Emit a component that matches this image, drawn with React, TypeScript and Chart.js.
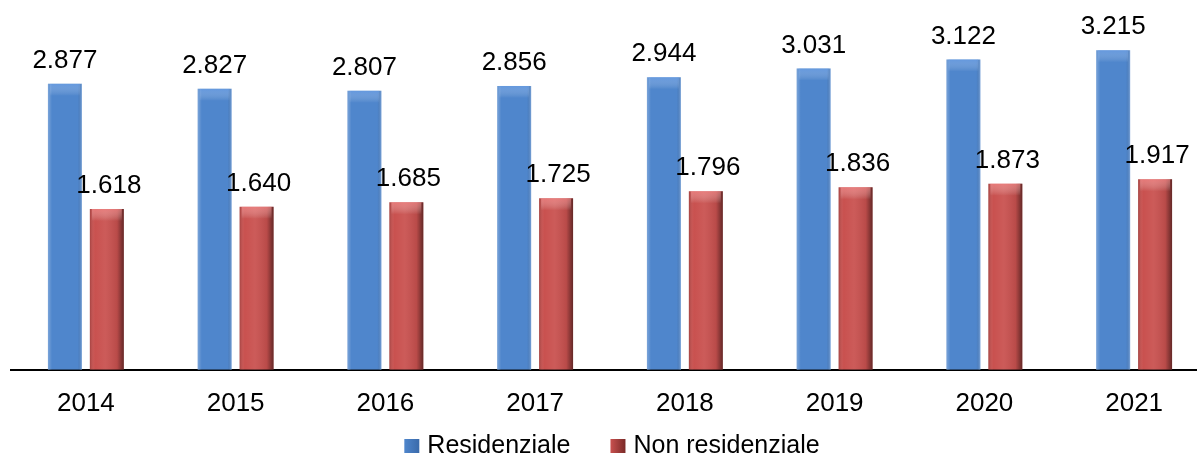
import React, { useEffect, useRef } from 'react';
import { Chart, registerables } from 'chart.js';

Chart.register(...registerables);

const categories = ['2014', '2015', '2016', '2017', '2018', '2019', '2020', '2021'];
const residenziale = [2877, 2827, 2807, 2856, 2944, 3031, 3122, 3215];
const nonResidenziale = [1618, 1640, 1685, 1725, 1796, 1836, 1873, 1917];
const seriesLabels = ['Residenziale', 'Non residenziale'];
const seriesColors = ['#4F86CC', '#C9514F'];

const FONT = '"Liberation Sans", Arial, sans-serif';

function fmt(v: number): string {
  const s = String(v);
  return s.slice(0, -3) + '.' + s.slice(-3);
}

export default function App() {
  const ref = useRef<HTMLCanvasElement>(null);

  useEffect(() => {
    document.body.style.margin = '0';
    const canvas = ref.current!;

    const shadePlugin = {
      id: 'shade',
      afterDatasetsDraw(chart: any) {
        const ctx = chart.ctx;
        chart.data.datasets.forEach((ds: any, di: number) => {
          const meta = chart.getDatasetMeta(di);
          meta.data.forEach((bar: any) => {
            const { x, y, base, width } = bar.getProps(['x', 'y', 'base', 'width'], true);
            const l = x - width / 2;
            const h = base - y;
            ctx.save();
            const g = ctx.createLinearGradient(l, 0, l + width, 0);
            if (di === 1) {
              g.addColorStop(0, 'rgba(0,0,0,0.18)');
              g.addColorStop(0.15, 'rgba(255,255,255,0.0)');
              g.addColorStop(0.45, 'rgba(255,255,255,0.06)');
              g.addColorStop(0.8, 'rgba(0,0,0,0.08)');
              g.addColorStop(1, 'rgba(0,0,0,0.5)');
            } else {
              g.addColorStop(0, 'rgba(255,255,255,0.25)');
              g.addColorStop(0.12, 'rgba(255,255,255,0.0)');
              g.addColorStop(0.88, 'rgba(0,0,0,0.0)');
              g.addColorStop(1, 'rgba(255,255,255,0.25)');
            }
            ctx.fillStyle = g;
            ctx.fillRect(l, y, width, h);
            const cg = ctx.createLinearGradient(0, y, 0, y + 12);
            cg.addColorStop(0, di === 1 ? 'rgba(255,150,150,0.55)' : 'rgba(120,170,240,0.5)');
            cg.addColorStop(1, 'rgba(255,255,255,0)');
            ctx.fillStyle = cg;
            ctx.fillRect(l + 2, y, width - 4, 12);
            ctx.restore();
          });
        });
      },
    };

    const labelPlugin = {
      id: 'valueLabels',
      afterDatasetsDraw(chart: any) {
        const ctx = chart.ctx;
        ctx.save();
        ctx.font = `26px ${FONT}`;
        ctx.fillStyle = '#000';
        ctx.textAlign = 'center';
        ctx.textBaseline = 'alphabetic';
        chart.data.datasets.forEach((ds: any, di: number) => {
          const meta = chart.getDatasetMeta(di);
          meta.data.forEach((bar: any, i: number) => {
            const { x, y } = bar.getProps(['x', 'y'], true);
            ctx.fillText(fmt(ds.data[i]), x + (di === 1 ? 2 : 0), y - 16);
          });
        });
        ctx.restore();
      },
    };

    const legendPlugin = {
      id: 'customLegend',
      afterDraw(chart: any) {
        const ctx = chart.ctx;
        ctx.save();
        ctx.font = `25px ${FONT}`;
        ctx.textBaseline = 'alphabetic';
        ctx.textAlign = 'left';
        const box = 15;
        const gap = 8;
        const spacing = 40;
        const widths = chart.data.datasets.map((d: any) => ctx.measureText(d.label).width);
        const total = widths.reduce((a: number, w: number) => a + box + gap + w, 0) + spacing;
        let x = 612 - total / 2;
        const baseY = 453;
        chart.data.datasets.forEach((d: any, i: number) => {
          const g = ctx.createLinearGradient(x, 0, x + box, 0);
          g.addColorStop(0, d.backgroundColor);
          g.addColorStop(1, i === 1 ? '#7a2a28' : '#3a6aaa');
          ctx.fillStyle = g;
          ctx.fillRect(x, baseY - 14, box, box - 1);
          x += box + gap;
          ctx.fillStyle = '#000';
          ctx.fillText(d.label, x, baseY);
          x += widths[i] + spacing;
        });
        ctx.restore();
      },
    };

    const chart = new Chart(canvas, {
      type: 'bar',
      data: {
        labels: categories,
        datasets: [
          { label: seriesLabels[0], data: residenziale, backgroundColor: seriesColors[0], borderWidth: 0 },
          { label: seriesLabels[1], data: nonResidenziale, backgroundColor: seriesColors[1], borderWidth: 0 },
        ],
      },
      options: {
        responsive: false,
        animation: false,
        layout: { padding: { top: 12, left: 11, right: 3, bottom: 29 } },
        datasets: { bar: { categoryPercentage: 0.56, barPercentage: 0.81 } },
        plugins: {
          legend: { display: false },
          tooltip: { enabled: false },
        },
        scales: {
          x: {
            grid: { display: false, drawTicks: false },
            border: { display: true, color: '#000', width: 2 },
            ticks: { color: '#000', font: { family: FONT, size: 26 }, padding: 18 },
          },
          y: {
            display: false,
            min: 0,
            max: 3600,
          },
        },
      },
      plugins: [shadePlugin, labelPlugin, legendPlugin],
    });
    return () => chart.destroy();
  }, []);

  return (
    <div style={{ width: 1197, height: 466, overflow: 'hidden', background: '#fff' }}>
      <canvas ref={ref} width={1212} height={466} style={{ display: 'block' }} />
    </div>
  );
}
